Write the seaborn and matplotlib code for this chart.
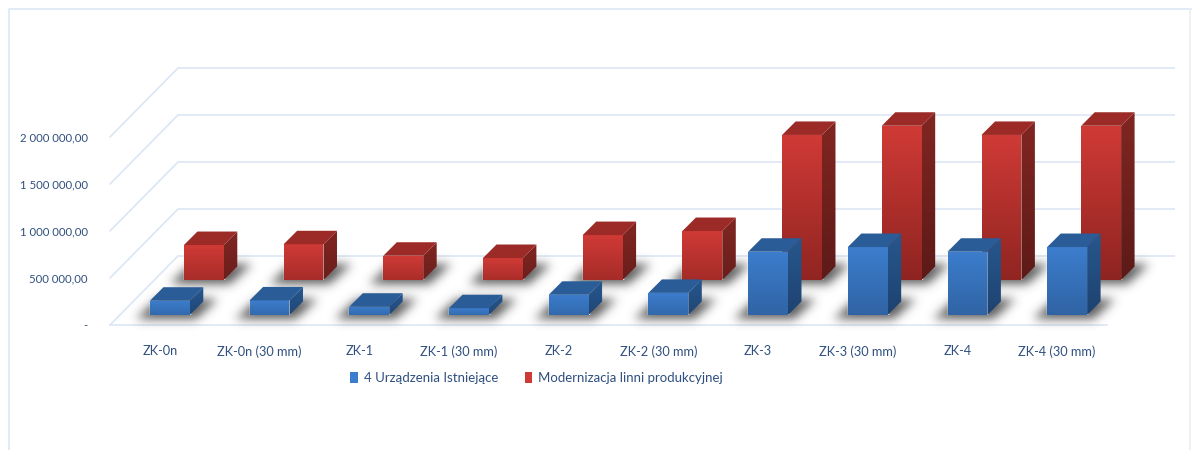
import numpy as np
import pandas as pd
import seaborn as sns
import matplotlib
matplotlib.use("Agg")
import matplotlib.pyplot as plt
from matplotlib.colors import LinearSegmentedColormap, to_rgb
from matplotlib.lines import Line2D
from matplotlib.patches import ConnectionPatch, Patch, Polygon
from matplotlib.path import Path

categories = ["ZK-0n", "ZK-0n (30 mm)", "ZK-1", "ZK-1 (30 mm)", "ZK-2", "ZK-2 (30 mm)",
              "ZK-3", "ZK-3 (30 mm)", "ZK-4", "ZK-4 (30 mm)"]
existing = [152000, 155000, 88000, 72000, 215000, 235000, 673000, 723000, 673000, 723000]
modern = [372000, 380000, 258000, 234000, 478000, 521000, 1543000, 1641000, 1543000, 1641000]
series_names = ["4 Urządzenia Istniejące", "Modernizacja linni produkcyjnej"]
y_ticks = [0, 500000, 1000000, 1500000, 2000000]
y_labels = ["-", "500 000,00", "1 000 000,00", "1 500 000,00", "2 000 000,00"]

W, H = 1192, 450
TEXT = "#2f4f7f"
GRID = "#dbe6f5"
FONT = "Lato"
PLOT_W, PLOT_H = 997, 235
LEFT, BASE = 110, 325
YMAX = 2500000
DEPTH = 13.5

sns.set_theme(style="white")
plt.rcParams["font.family"] = [FONT, "DejaVu Sans"]
fig = plt.figure(figsize=(W / 100, H / 100), dpi=100, facecolor="white")


def layer(dx, dy, z):
    ax = fig.add_axes([(LEFT + dx) / W, 1 - (BASE - dy) / H, PLOT_W / W, PLOT_H / H], zorder=z)
    ax.patch.set_visible(False)
    return ax


def limits(ax):
    ax.set_xlim(-0.5, len(categories) - 0.5)
    ax.set_ylim(0, YMAX)


# frame
fig.add_artist(Line2D([9 / W, 9 / W, 1], [0, 1 - 9 / H, 1 - 9 / H], color="#dce7f5", lw=1.2))
fig.add_artist(Line2D([1190 / W, 1190 / W], [0, 1 - 9 / H], color="#eeeeee", lw=1.2))

# front axis layer
ax_axis = layer(0, 0, 1)
limits(ax_axis)
for s in ["top", "right", "left"]:
    ax_axis.spines[s].set_visible(False)
ax_axis.spines["bottom"].set_color(GRID)
ax_axis.spines["bottom"].set_linewidth(1.2)
ax_axis.set_xticks(range(len(categories)), categories)
ax_axis.set_yticks(y_ticks, y_labels)
ax_axis.tick_params(axis="x", length=0, pad=14.5, labelsize=9.2, labelcolor=TEXT)
ax_axis.tick_params(axis="y", length=0, pad=16, labelsize=8.2, labelcolor=TEXT)

# back wall layer
ax_wall = layer(68, 69, 1)
limits(ax_wall)
ax_wall.set_axis_off()
ax_wall.hlines(y_ticks, -0.5, len(categories) - 0.5, color=GRID, lw=1.2, clip_on=False)
for v in y_ticks:
    fig.add_artist(ConnectionPatch((-0.5, v), (-0.5, v), coordsA=ax_axis.transData,
                                   coordsB=ax_wall.transData, color=GRID, lw=1.2, zorder=1))


def grad_face(ax, verts, c_top, c_bot):
    xs, ys = zip(*verts)
    cmap = LinearSegmentedColormap.from_list("g", [c_top, c_bot])
    im = ax.imshow(np.linspace(0, 1, 128)[:, None], extent=(min(xs), max(xs), min(ys), max(ys)),
                   cmap=cmap, aspect="auto", origin="upper", zorder=2)
    poly = Polygon(verts, closed=True, transform=ax.transData, fc="none", ec="none")
    ax.add_patch(poly)
    im.set_clip_path(poly)


def mix(a, b, t):
    a, b = np.array(to_rgb(a)), np.array(to_rgb(b))
    return tuple(a + (b - a) * t)


def bars(ax, values, colors):
    df = pd.DataFrame({"cat": categories, "val": values})
    sns.barplot(data=df, x="cat", y="val", ax=ax, color=colors["front"], width=0.4,
                saturation=1, errorbar=None)
    ax.set_axis_off()
    limits(ax)
    ddx = DEPTH * (len(categories) / PLOT_W)
    ddy = DEPTH * (YMAX / PLOT_H)
    for p in list(ax.patches):
        x, w, h = p.get_x(), p.get_width(), p.get_height()
        t = 0.5 + 0.5 * h / max(modern)
        bot = mix(colors["front"], colors["bottom"], t)
        sbot = mix(colors["side"], colors["sidebot"], t)
        grad_face(ax, [(x, 0), (x + w, 0), (x + w, h), (x, h)], colors["front"], bot)
        grad_face(ax, [(x + w, 0), (x + w + ddx, ddy), (x + w + ddx, h + ddy), (x + w, h)],
                  colors["side"], sbot)
        ax.add_patch(Polygon([(x, h), (x + w, h), (x + w + ddx, h + ddy), (x + ddx, h + ddy)],
                             closed=True, fc=colors["top"], ec="none", zorder=3))


RED = dict(front="#d03a36", bottom="#8e2421", side="#812622", sidebot="#5c1a17", top="#9c2b28")
BLUE = dict(front="#3c7dcd", bottom="#2b5a94", side="#27578e", sidebot="#1a3a64", top="#2a5c98")
ax_red = layer(44, 45, 3)
bars(ax_red, modern, RED)
ax_blue = layer(10, 10, 4)
bars(ax_blue, existing, BLUE)

# soft floor shadows below each bar, placed from the bars' own positions
fig.canvas.draw()
grid_x, grid_y = np.meshgrid(np.arange(W) + 0.5, np.arange(H) + 0.5)
pts = np.column_stack([grid_x.ravel(), grid_y.ravel()])
mask = np.zeros((H, W))
for ax in (ax_red, ax_blue):
    for p in ax.patches[:len(categories)]:
        (x0, y0), (x1, _) = ax.transData.transform([(p.get_x(), 0), (p.get_x() + p.get_width(), 0)])
        y0 = H - y0
        shape = Path([(x0 - 14, y0 + 4), (x1 + 6, y0 + 4), (x1 + 28, y0 - 16), (x0 + 8, y0 - 16)])
        mask += shape.contains_points(pts).reshape(H, W)
kernel = np.exp(-0.5 * (np.arange(-18, 19) / 5.0) ** 2)
kernel /= kernel.sum()
blur = np.apply_along_axis(lambda r: np.convolve(r, kernel, mode="same"), 0, mask)
blur = np.apply_along_axis(lambda r: np.convolve(r, kernel, mode="same"), 1, blur)
rgba = np.zeros((H, W, 4))
rgba[..., :3] = 0.25
rgba[..., 3] = np.clip(blur, 0, 1) * 0.85
ax_shadow = fig.add_axes([0, 0, 1, 1], zorder=2)
ax_shadow.set_axis_off()
ax_shadow.imshow(rgba, extent=(0, W, H, 0), aspect="auto", interpolation="bilinear")

handles = [Patch(fc=BLUE["front"], ec="none"), Patch(fc=RED["front"], ec="none")]
fig.legend(handles, series_names, ncol=2, loc="center", bbox_to_anchor=(536.5 / W, 1 - 378 / H),
           frameon=False, fontsize=9.55, labelcolor=TEXT, handlelength=0.55, handleheight=0.9,
           handletextpad=0.45, columnspacing=2.0, borderpad=0)

fig.savefig("out.png", dpi=100, facecolor="white")
